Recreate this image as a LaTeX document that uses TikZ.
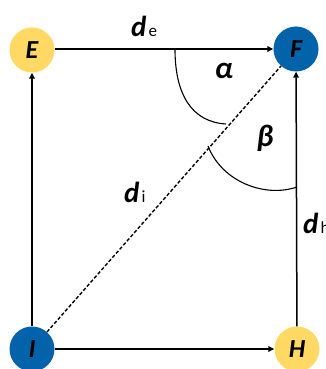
\documentclass[tikz,border=0pt]{standalone}
\usepackage{fontspec}
\setmainfont{Carlito}
\usetikzlibrary{arrows.meta}
\definecolor{ylw}{RGB}{255,217,100}
\definecolor{blu}{RGB}{2,98,170}
\tikzset{
  bubble/.style={circle,minimum size=45pt,inner sep=0pt,font=\fontsize{26}{26}\selectfont\bfseries\itshape},
  ybubble/.style={bubble,fill=ylw},
  bbubble/.style={bubble,fill=blu},
  conn/.style={line width=1.5pt,-{Triangle[length=6pt,width=5.5pt]}},
  dashconn/.style={line width=1.4pt,dash pattern=on 3.5pt off 2pt},
  anglearc/.style={line width=1.1pt},
  dlabel/.style={inner sep=0pt,anchor=base west},
  glabel/.style={inner sep=0pt,font=\fontsize{31}{31}\selectfont\bfseries\itshape}
}
\newcommand{\dsub}[1]{{\fontsize{29}{29}\selectfont\bfseries\itshape d}\hspace{2pt}{\fontsize{17}{17}\selectfont #1}}
\begin{document}
\begin{tikzpicture}[x=1pt,y=-1pt]
\useasboundingbox (0,0) rectangle (326,369);
\node[ybubble] (E) at (32,50) {E};
\node[bbubble] (F) at (296,49) {F};
\node[bbubble] (I) at (32,349) {I};
\node[ybubble] (H) at (297,349) {H};
\draw[conn] (E.east |- 0,49) -- (F.west |- 0,49);
\draw[conn] (I) -- (E);
\draw[conn] (I) -- (H);
\draw[conn] (H) -- (F);
\draw[dashconn] (I) -- (F);
\coordinate (a1) at (175,49);
\coordinate (a2) at (226,124);
\draw[anglearc] (a1) .. controls (175,95) and (192,122) .. (a2);
\coordinate (b1) at (208,146);
\coordinate (b2) at (297,187);
\draw[anglearc] (b1) .. controls (222,182) and (265,198) .. (b2);
\node[dlabel] (de) at (131,37) {\dsub{e}};
\node[dlabel] (di) at (124,202) {\dsub{i}};
\node[dlabel] (dh) at (303,233) {\dsub{h}};
\node[glabel] (al) at (224,71) {α};
\node[glabel] (be) at (265,138) {β};
\end{tikzpicture}
\end{document}
